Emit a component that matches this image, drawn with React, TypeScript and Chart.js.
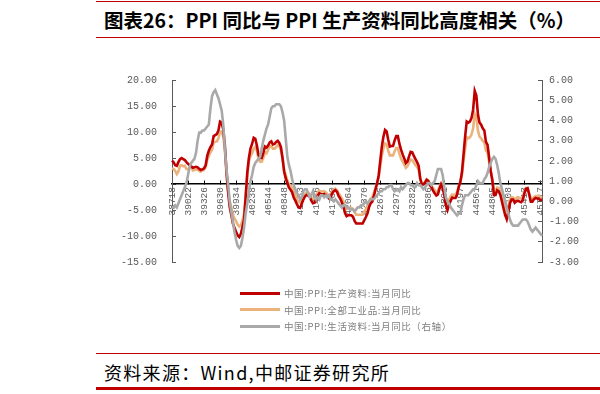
import React, { useEffect, useRef } from "react";
import { Chart, registerables } from "chart.js";

Chart.register(...registerables);

// Monthly categories 2006-01 .. 2025-04
const years = [2006, 2007, 2008, 2009, 2010, 2011, 2012, 2013, 2014, 2015, 2016, 2017, 2018, 2019, 2020, 2021, 2022, 2023, 2024, 2025];
const months = ["01", "02", "03", "04", "05", "06", "07", "08", "09", "10", "11", "12"];
const lastMonthCount = 4;
const categories: string[] = [];
years.forEach((y, yi) => {
  const n = yi === years.length - 1 ? lastMonthCount : 12;
  for (let m = 0; m < n; m++) categories.push(`${y}-${months[m]}`);
});

// Shown x tick labels (Excel date serials), one every 10 months
const tickLabels = [
  "38718", "39022", "39326", "39630", "39934", "40238", "40544", "40848",
  "41153", "41456", "41760", "42064", "42370", "42675", "42979", "43282",
  "43586", "43891", "44197", "44501", "44805", "45108", "45413", "45717",
];
const tickEvery = 10;

// 中国:PPI:生产资料:当月同比 (left axis)
const producerGoods = [
  4.5, 4.2, 3.6, 3.5, 4.2, 4.8, 5.0, 4.8, 4.6, 4.2, 3.9, 3.6,
  3.4, 3.1, 3.2, 3.3, 3.2, 2.9, 2.7, 2.8, 3.0, 3.6, 5.4, 6.4,
  7.1, 7.6, 9.2, 9.4, 9.6, 10.3, 12.0, 11.8, 10.5, 7.5, 2.5, -1.5,
  -4.4, -5.9, -7.6, -8.4, -9.2, -9.9, -10.2, -9.6, -8.3, -6.8, -2.5, 2.2,
  5.0, 6.8, 7.7, 8.9, 8.7, 7.4, 5.6, 5.0, 5.0, 6.0, 7.2, 7.0,
  7.4, 8.0, 8.2, 7.6, 7.7, 8.1, 8.3, 7.9, 7.1, 5.0, 2.4, 1.1,
  0.2, -0.7, -1.1, -1.6, -2.6, -3.2, -3.9, -4.5, -4.6, -3.8, -3.0, -2.4,
  -2.1, -2.2, -2.5, -3.2, -3.7, -3.6, -3.0, -2.3, -1.8, -2.0, -2.0, -1.9,
  -2.1, -2.5, -2.8, -2.5, -1.8, -1.4, -1.2, -1.5, -2.3, -2.8, -3.5, -4.3,
  -5.6, -6.2, -6.0, -6.0, -6.0, -6.3, -7.1, -7.6, -7.6, -7.6, -7.6, -7.6,
  -7.0, -6.4, -5.7, -4.5, -3.7, -3.4, -2.4, -1.1, 0.1, 1.6, 4.4, 7.2,
  9.1, 10.4, 10.1, 8.5, 7.2, 7.3, 7.3, 8.4, 9.2, 9.2, 7.7, 6.6,
  5.7, 4.9, 4.0, 4.3, 5.3, 6.2, 6.1, 5.4, 4.8, 4.2, 3.5, 1.0,
  -0.1, -0.1, 0.3, 0.8, 0.6, -0.2, -0.6, -1.3, -1.8, -2.2, -2.0, -0.9,
  -0.1, -0.8, -2.1, -4.1, -5.0, -4.0, -3.2, -2.6, -2.7, -2.7, -2.0, -0.6,
  0.4, 2.2, 5.6, 9.1, 12.0, 11.8, 12.0, 12.7, 14.3, 17.9, 17.0, 13.4,
  11.8, 11.4, 10.7, 10.3, 8.1, 7.5, 5.1, 2.5, 0.7, -2.1, -2.1, -1.2,
  -1.4, -2.1, -3.4, -4.7, -6.0, -6.8, -5.5, -3.7, -3.0, -3.0, -3.6, -3.3,
  -3.2, -3.4, -3.5, -3.1, -1.8, -0.9, -0.8, -2.0, -3.4, -3.4, -2.9, -2.7,
  -2.8, -2.8, -3.1, -3.0,
];

// 中国:PPI:全部工业品:当月同比 (left axis)
const allIndustrial = [
  3.0, 2.9, 2.5, 1.9, 2.4, 3.5, 3.6, 3.4, 3.5, 2.9, 2.8, 3.1,
  3.3, 2.6, 2.7, 2.8, 2.8, 2.5, 2.4, 2.6, 2.7, 3.2, 4.6, 5.4,
  6.1, 6.6, 8.0, 8.1, 8.2, 8.8, 10.0, 10.1, 9.1, 6.6, 2.0, -1.1,
  -3.3, -4.5, -6.0, -6.6, -7.2, -7.8, -8.2, -7.9, -7.0, -5.8, -2.1, 1.7,
  4.3, 5.4, 5.9, 6.8, 7.1, 6.4, 4.8, 4.3, 4.3, 5.0, 6.1, 5.9,
  6.6, 7.2, 7.3, 6.8, 6.8, 7.1, 7.5, 7.3, 6.5, 5.0, 2.7, 1.7,
  0.7, 0.0, -0.3, -0.7, -1.4, -2.1, -2.9, -3.5, -3.6, -2.8, -2.2, -1.9,
  -1.6, -1.6, -1.9, -2.6, -2.9, -2.7, -2.3, -1.6, -1.3, -1.5, -1.4, -1.4,
  -1.6, -2.0, -2.3, -2.0, -1.4, -1.1, -0.9, -1.2, -1.8, -2.2, -2.7, -3.3,
  -4.3, -4.8, -4.6, -4.6, -4.6, -4.8, -5.4, -5.9, -5.9, -5.9, -5.9, -5.9,
  -5.3, -4.9, -4.3, -3.4, -2.8, -2.6, -1.7, -0.8, 0.1, 1.2, 3.3, 5.5,
  6.9, 7.8, 7.6, 6.4, 5.5, 5.5, 5.5, 6.3, 6.9, 6.9, 5.8, 4.9,
  4.3, 3.7, 3.1, 3.4, 4.1, 4.7, 4.6, 4.1, 3.6, 3.3, 2.7, 0.9,
  0.1, 0.1, 0.4, 0.9, 0.6, 0.0, -0.3, -0.8, -1.2, -1.6, -1.4, -0.5,
  0.1, -0.4, -1.5, -3.1, -3.7, -3.0, -2.4, -2.0, -2.1, -2.1, -1.5, -0.4,
  0.3, 1.7, 4.4, 6.8, 9.0, 8.8, 9.0, 9.5, 10.7, 13.5, 12.9, 10.3,
  9.1, 8.8, 8.3, 8.0, 6.4, 6.1, 4.2, 2.3, 0.9, -1.3, -1.3, -0.7,
  -0.8, -1.4, -2.5, -3.6, -4.6, -5.4, -4.4, -3.0, -2.5, -2.6, -3.0, -2.7,
  -2.5, -2.7, -2.8, -2.5, -1.4, -0.8, -0.8, -1.8, -2.8, -2.9, -2.5, -2.3,
  -2.3, -2.2, -2.5, -2.7,
];

// 中国:PPI:生活资料:当月同比 (right axis)
const consumerGoods = [
  -0.3, -0.3, -0.2, -0.3, -0.1, 0.1, 0.3, 0.5, 0.7, 0.9, 1.3, 1.7,
  1.9, 2.0, 2.1, 2.4, 3.0, 3.4, 3.4, 3.5, 3.5, 3.6, 3.7, 3.8,
  4.6, 5.2, 5.4, 5.5, 5.3, 5.1, 4.8, 4.5, 3.8, 2.6, 1.6, 0.9,
  0.0, -0.5, -1.0, -1.5, -1.9, -2.2, -2.3, -2.2, -1.8, -1.3, -0.6, -0.1,
  0.5, 1.0, 1.3, 1.7, 1.9, 2.0, 2.1, 2.2, 2.6, 3.0, 3.3, 3.6,
  3.8, 4.2, 4.6, 4.7, 4.7, 4.8, 4.8, 4.8, 4.7, 4.4, 4.0, 3.1,
  2.2, 1.8, 1.5, 1.1, 0.8, 0.6, 0.4, 0.3, 0.1, 0.2, 0.5, 0.6,
  0.6, 0.4, 0.2, 0.3, 0.5, 0.3, 0.1, 0.2, 0.1, 0.3, 0.3, 0.2,
  0.3, 0.2, 0.3, 0.1, 0.1, 0.0, 0.1, 0.0, -0.1, -0.2, -0.3, -0.2,
  -0.2, -0.3, -0.3, -0.4, -0.4, -0.4, -0.5, -0.4, -0.3, -0.3, -0.2, -0.2,
  -0.1, 0.0, -0.1, 0.0, 0.1, 0.1, 0.1, 0.2, 0.3, 0.4, 0.5, 0.5,
  0.6, 0.6, 0.7, 0.7, 0.8, 0.8, 0.6, 0.5, 0.6, 0.6, 0.5, 0.7,
  0.6, 0.7, 0.8, 0.9, 0.9, 0.8, 0.8, 0.7, 0.7, 0.9, 0.8, 0.8,
  0.7, 0.6, 0.7, 0.8, 0.9, 0.9, 0.8, 0.9, 1.0, 1.3, 1.6, 1.6,
  1.6, 1.3, 0.7, 0.2, 0.0, -0.1, -0.3, -0.4, -0.5, -0.6, -0.7, -0.6,
  -0.6, -0.2, 0.1, 0.3, 0.3, 0.3, 0.4, 0.5, 0.6, 0.6, 0.8, 1.0,
  0.9, 0.9, 0.9, 1.1, 1.2, 1.4, 1.7, 1.9, 2.1, 2.2, 2.1, 1.8,
  1.4, 0.9, 0.6, 0.3, 0.0, -0.3, -0.6, -0.9, -1.1, -1.2, -1.2, -1.2,
  -1.2, -1.1, -1.0, -0.9, -0.9, -0.9, -1.0, -1.2, -1.4, -1.5, -1.4, -1.3,
  -1.4, -1.5, -1.6, -1.7,
];

const seriesNames = [
  "中国:PPI:生产资料:当月同比",
  "中国:PPI:全部工业品:当月同比",
  "中国:PPI:生活资料:当月同比（右轴）",
];
const seriesColors = ["#C00000", "#EBB27C", "#A9A9A9"];

const TITLE = "图表26：PPI 同比与 PPI 生产资料同比高度相关（%）";
const SOURCE = "资料来源：Wind,中邮证券研究所";

const CANVAS_W = 505;
const CANVAS_H = 240;

export default function App() {
  const ref = useRef<HTMLCanvasElement | null>(null);

  useEffect(() => {
    if (!ref.current) return;
    const tickFont = { family: "'Liberation Mono', 'DejaVu Sans Mono', monospace", size: 10 };
    const chart = new Chart(ref.current, {
      type: "line",
      data: {
        labels: categories,
        datasets: [
          {
            label: seriesNames[0],
            data: producerGoods,
            borderColor: seriesColors[0],
            backgroundColor: seriesColors[0],
            borderWidth: 2.6,
            yAxisID: "y",
            order: 1,
          },
          {
            label: seriesNames[1],
            data: allIndustrial,
            borderColor: seriesColors[1],
            backgroundColor: seriesColors[1],
            borderWidth: 2.6,
            yAxisID: "y",
            order: 2,
          },
          {
            label: seriesNames[2],
            data: consumerGoods,
            borderColor: seriesColors[2],
            backgroundColor: seriesColors[2],
            borderWidth: 2.6,
            yAxisID: "y1",
            order: 0,
          },
        ],
      },
      options: {
        animation: false,
        responsive: false,
        maintainAspectRatio: false,
        layout: { padding: { top: 20, bottom: 33, left: 0, right: 0 } },
        elements: { point: { radius: 0 }, line: { tension: 0 } },
        plugins: { legend: { display: false }, tooltip: { enabled: false } },
        scales: {
          x: {
            type: "category",
            position: { y: 0 } as any,
            grid: {
              drawOnChartArea: false,
              drawTicks: true,
              tickLength: -4,
              lineWidth: 1,
              color: (ctx: any) => (ctx.index % tickEvery === 0 ? "#000000" : "rgba(0,0,0,0)"),
            },
            border: { display: true, color: "#000000", width: 1.5 },
            ticks: {
              autoSkip: false,
              minRotation: 90,
              maxRotation: 90,
              padding: 7,
              color: "#595959",
              font: { family: tickFont.family, size: 9.5 },
              callback: (_v: any, i: number) => (i % tickEvery === 0 ? tickLabels[i / tickEvery] : ""),
            },
          },
          y: {
            position: "left",
            min: -15,
            max: 20,
            afterFit: (s: any) => {
              s.width = 77;
            },
            grid: { drawOnChartArea: false, drawTicks: true, tickLength: -4, color: "#595959" },
            border: { display: true, color: "#595959", width: 1 },
            ticks: {
              stepSize: 5,
              padding: 19,
              color: "#595959",
              font: tickFont,
              callback: (v: any) => Number(v).toFixed(2),
            },
          },
          y1: {
            position: "right",
            min: -3,
            max: 6,
            afterFit: (s: any) => {
              s.width = 58;
            },
            grid: { drawOnChartArea: false, drawTicks: true, tickLength: -4, color: "#595959" },
            border: { display: true, color: "#595959", width: 1 },
            ticks: {
              stepSize: 1,
              padding: 11,
              color: "#595959",
              font: tickFont,
              callback: (v: any) => Number(v).toFixed(2),
            },
          },
        },
      },
    });
    return () => chart.destroy();
  }, []);

  const cjk = "'Noto Sans CJK SC', 'Noto Sans', sans-serif";

  return (
    <div style={{ position: "absolute", left: 0, top: 0, width: 600, height: 394, background: "#ffffff", overflow: "hidden" }}>
      <div style={{ position: "absolute", left: 96, top: 1, width: 504, height: 1, background: "#C00000" }} />
      <div
        style={{
          position: "absolute",
          left: 104,
          top: 8,
          fontFamily: cjk,
          fontWeight: 700,
          fontSize: 19.5,
          lineHeight: "24px",
          color: "#000",
          whiteSpace: "nowrap",
        }}
      >
        {TITLE}
      </div>
      <div style={{ position: "absolute", left: 96, top: 37, width: 504, height: 1, background: "#C00000" }} />

      <div style={{ position: "absolute", left: 95, top: 55, width: CANVAS_W, height: CANVAS_H }}>
        <canvas ref={ref} width={CANVAS_W} height={CANVAS_H} style={{ width: CANVAS_W, height: CANVAS_H, display: "block" }} />
      </div>

      {seriesNames.map((name, i) => (
        <div key={name} style={{ position: "absolute", left: 240, top: 286 + i * 16.5, height: 14, display: "flex", alignItems: "center" }}>
          <div style={{ width: 40, height: 3, background: seriesColors[i] }} />
          <div style={{ marginLeft: 4, fontFamily: cjk, fontSize: 9.5, color: "#7f7f7f", whiteSpace: "nowrap", letterSpacing: 0.6 }}>{name}</div>
        </div>
      ))}

      <div style={{ position: "absolute", left: 96, top: 353, width: 504, height: 1, background: "#C00000" }} />
      <div
        style={{
          position: "absolute",
          left: 104,
          top: 360,
          fontFamily: cjk,
          fontSize: 18,
          lineHeight: "24px",
          color: "#000",
          whiteSpace: "nowrap",
          letterSpacing: 1.3,
        }}
      >
        {SOURCE}
      </div>
      <div style={{ position: "absolute", left: 96, top: 387, width: 504, height: 3, background: "#C00000" }} />
    </div>
  );
}
